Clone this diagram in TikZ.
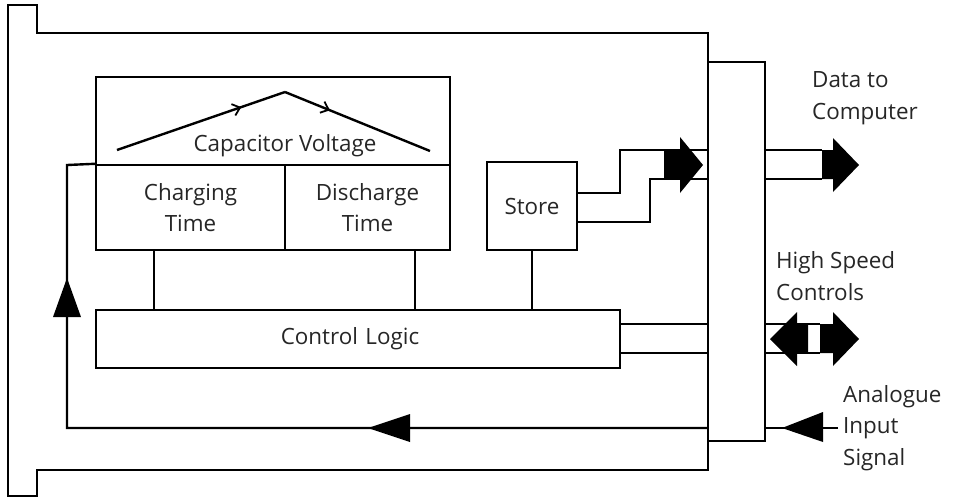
\documentclass[tikz,border=0pt]{standalone}
\usepackage{fontspec}
\setmainfont{Open Sans}
\usetikzlibrary{arrows.meta,decorations.markings}
\newcommand{\fsz}{\fontsize{22.4}{31.5}\selectfont}
\begin{document}
\begin{tikzpicture}[x=1pt,y=-1pt,line width=2.4pt,line join=miter,
  box/.style={draw,line width=2.4pt,inner sep=0pt,font=\fsz,align=center,text=black!85},
  lbl/.style={font=\fsz,align=left,inner sep=0pt,anchor=west,text=black!85},
  blk/.style={fill=black,draw=none},
  midarrow/.style={postaction={decorate},decoration={markings,mark=at position #1 with {\arrow{Straight Barb[length=7pt,width=12pt,line width=1.8pt]}}}}]
\useasboundingbox (0,0) rectangle (954,499);
% outer frame
\draw (8,5) -- (37,5) -- (37,33) -- (708,33) -- (708,470) -- (37,470) -- (37,496) -- (8,496) -- cycle;
% right i/o box
\node[box,minimum width=57pt,minimum height=379pt] (io) at (736.5,251.5) {};
% capacitor voltage box
\node[box,minimum width=354pt,minimum height=88pt] (cv) at (273,121) {};
\node[font=\fsz,text=black!85,inner sep=0pt] (cvt) at (285,146) {Capacitor Voltage};
\draw[midarrow=0.74] (117,150) -- (285,92);
\draw[midarrow=0.31] (285,92) -- (430,151);
% charging / discharge
\node[box,minimum width=189pt,minimum height=85pt] (charge) at (190.5,207.5) {Charging\\Time};
\node[box,minimum width=165pt,minimum height=85pt] (dis) at (367.5,207.5) {Discharge\\Time};
% store
\node[box,minimum width=90pt,minimum height=88pt] (store) at (532,206) {\raisebox{-3pt}{Store}};
% control logic
\node[box,minimum width=524pt,minimum height=58pt,text width=500pt] (logic) at (358,339) {\hspace*{-16pt}\raisebox{-3pt}{Control Logic}};
% vertical connectors to control logic
\draw ([xshift=-36.5pt]charge.south) -- ([xshift=-36.5pt]charge.south |- logic.north);
\draw ([xshift=47.5pt]dis.south) -- ([xshift=47.5pt]dis.south |- logic.north);
\draw (store.south) -- (store.south |- logic.north);
% store outputs
\coordinate (s1) at (708,150);
\coordinate (s2) at (708,179);
\draw ([yshift=13pt]store.east) -| (620,150) -- (s1);
\draw ([yshift=-16pt]store.east) -| (650,179) -- (s2);
\fill[blk] (664,150) -- (680,150) -- (680,137) -- (703,165) -- (680,193) -- (680,179) -- (664,179) -- cycle;
% data to computer
\coordinate (d1) at (822,150);
\coordinate (d2) at (822,179);
\draw (io.west |- d1) ++(57,0) -- (d1);
\draw (io.west |- d2) ++(57,0) -- (d2);
\fill[blk] (822,150) -- (833,150) -- (833,138) -- (859,165) -- (833,192) -- (833,179) -- (822,179) -- cycle;
\node[lbl] (dtc) at (811,98) {Data to\\Computer};
% control logic to io
\draw ([yshift=15pt]logic.east) -- ([yshift=15pt]logic.east -| io.west);
\draw ([yshift=-14pt]logic.east) -- ([yshift=-14pt]logic.east -| io.west);
\coordinate (h1) at (820,324);
\coordinate (h2) at (820,353);
\draw (io.east |- h1) -- (h1);
\draw (io.east |- h2) -- (h2);
\fill[blk] (770,339) -- (797,312) -- (797,324) -- (808,324) -- (808,353) -- (797,353) -- (797,366) -- cycle;
\fill[blk] (820,324) -- (833,324) -- (833,312) -- (859,339) -- (833,366) -- (833,353) -- (820,353) -- cycle;
\node[lbl] (hsc) at (775,276) {High Speed\\Controls};
% analogue input
\coordinate (ain) at (838,428);
\draw (ain) -- (io.east |- ain);
\fill[blk] (782,428) -- (823,412) -- (823,442) -- cycle;
\node[lbl] (ais) at (842,428) {Analogue\\Input\\Signal};
% feedback loop
\coordinate (f1) at (67,428);
\coordinate (f2) at (67,165);
\draw (io.west |- f1) -- (f1) -- (f2) -- (charge.north west);
\fill[blk] (368,428) -- (410,414) -- (410,442) -- cycle;
\fill[blk] (67,278) -- (81,317) -- (53,317) -- cycle;
\end{tikzpicture}
\end{document}
